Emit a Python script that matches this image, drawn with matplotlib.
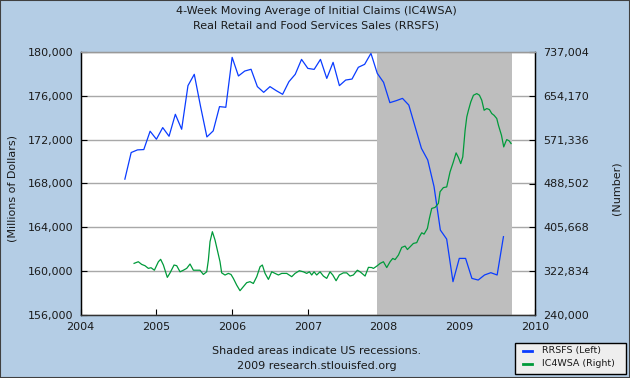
import numpy as np
import matplotlib
matplotlib.use("Agg")
import matplotlib.pyplot as plt
from matplotlib.patches import Rectangle
from matplotlib.lines import Line2D

# ---------------- data ----------------
title_lines = ["4-Week Moving Average of Initial Claims (IC4WSA)",
               "Real Retail and Food Services Sales (RRSFS)"]

# RRSFS monthly, Aug 2004 .. Aug 2009 (millions of dollars)
rrsfs_start_year = 2004
rrsfs_start_month = 8
rrsfs = [168395, 170820, 171060, 171090, 172760,
         172030, 173090, 172300, 174300, 172940, 176910, 177940, 175000, 172240, 172790, 175000, 174940,
         179485, 177790, 178240, 178400, 176820, 176300, 176820, 176450, 176120, 177270, 177940, 179300,
         178480, 178390, 179300, 177570, 179030, 176910, 177420, 177510, 178580, 178850, 179850, 178030,
         177210, 175360, 175540, 175750, 175140, 173170, 171200, 170140, 167710, 163760, 162940, 159060,
         161180, 161180, 159360, 159210, 159670, 159880, 159670, 163160]

# IC4WSA (weekly) : decimal year, thousands
ic_year = [2004.705, 2004.761, 2004.805, 2004.849, 2004.893, 2004.929, 2004.973, 2005.026, 2005.056,
           2005.092, 2005.144, 2005.180, 2005.233, 2005.268, 2005.312, 2005.356, 2005.400, 2005.444,
           2005.488, 2005.532, 2005.576, 2005.620, 2005.664, 2005.686, 2005.708, 2005.739, 2005.774,
           2005.805, 2005.840, 2005.862, 2005.906, 2005.950, 2005.985, 2006.016, 2006.060, 2006.104,
           2006.148, 2006.192, 2006.236, 2006.280, 2006.325, 2006.369, 2006.399, 2006.435, 2006.479,
           2006.523, 2006.567, 2006.611, 2006.655, 2006.721, 2006.787, 2006.831, 2006.888, 2006.941,
           2006.985, 2007.020, 2007.051, 2007.082, 2007.117, 2007.161, 2007.205, 2007.249, 2007.293,
           2007.329, 2007.373, 2007.416, 2007.469, 2007.513, 2007.557, 2007.601, 2007.654, 2007.690,
           2007.756, 2007.800, 2007.844, 2007.866, 2007.910, 2007.954, 2007.998, 2008.042, 2008.086,
           2008.121, 2008.152, 2008.196, 2008.240, 2008.284, 2008.315, 2008.350, 2008.394, 2008.438,
           2008.473, 2008.504, 2008.535, 2008.579, 2008.605, 2008.636, 2008.680, 2008.724, 2008.746,
           2008.790, 2008.834, 2008.878, 2008.922, 2008.958, 2008.989, 2009.019, 2009.046, 2009.077,
           2009.099, 2009.121, 2009.152, 2009.187, 2009.231, 2009.266, 2009.297, 2009.328, 2009.363,
           2009.398, 2009.429, 2009.460, 2009.495, 2009.517, 2009.557, 2009.587, 2009.613, 2009.627,
           2009.658, 2009.684]
ic_k = [337.9, 341.0, 336.0, 333.5, 328.5, 329.7, 325.0, 341.0, 345.5,
        334.8, 311.5, 320.0, 334.8, 333.5, 322.0, 325.0, 328.5, 336.7,
        325.0, 325.0, 325.0, 317.0, 322.0, 344.0, 378.8, 397.6, 381.9,
        363.0, 341.0, 320.0, 315.9, 319.0, 317.0, 309.6, 297.0, 286.4,
        294.0, 301.5, 303.4, 300.0, 312.8, 331.6, 334.8, 319.0, 307.7,
        322.0, 319.0, 316.0, 319.0, 319.0, 312.8, 319.0, 324.0, 322.0,
        319.0, 322.0, 316.0, 322.0, 316.0, 322.0, 314.0, 309.6, 322.0,
        316.0, 305.2, 316.0, 320.0, 320.0, 314.0, 316.0, 325.0, 322.0,
        314.0, 330.4, 330.0, 328.4, 332.7, 337.8, 341.0, 330.0, 341.0,
        347.2, 345.0, 353.5, 368.0, 370.5, 364.0, 369.0, 375.5, 377.0,
        388.0, 395.6, 393.0, 403.8, 422.6, 441.5, 443.4, 451.0, 473.0,
        480.8, 482.0, 510.4, 529.2, 546.2, 537.4, 526.0, 538.6, 588.9,
        614.0, 626.6, 642.4, 654.9, 658.0, 655.0, 645.5, 626.6, 629.8,
        627.9, 620.4, 617.0, 611.0, 598.4, 579.5, 557.5, 567.0, 571.3,
        569.0, 563.8]

recession = (2007.917, 2009.70)
x_years = [2004, 2005, 2006, 2007, 2008, 2009, 2010]
left_ticks = [156000, 160000, 164000, 168000, 172000, 176000, 180000]
right_ticks = [240000, 322834, 405668, 488502, 571336, 654170, 737004]

# ---------------- style ----------------
BG = "#B4CDE5"
BLUE = "#0A3CFF"
GREEN = "#009A3A"
SHADE = "#BEBEBE"
GRID = "#A8A8A8"
TXT = "#1a1a1a"

W, H = 630, 378
fig = plt.figure(figsize=(W / 100, H / 100), dpi=100)
fig.patch.set_facecolor(BG)

L, R, T, B = 80.7, 535.0, 51.7, 315.3
ax = fig.add_axes([L / W, 1 - B / H, (R - L) / W, (B - T) / H])
ax.set_facecolor("white")
ax2 = ax.twinx()

rx = [rrsfs_start_year + (rrsfs_start_month - 1 + i) / 12 for i in range(len(rrsfs))]
ax.axvspan(recession[0], recession[1], color=SHADE, lw=0, zorder=1)
ax.plot(rx, rrsfs, color=BLUE, lw=0.9, zorder=3)
ax2.plot(ic_year, np.array(ic_k) * 1000, color=GREEN, lw=0.9, zorder=3)

ax.set_xlim(x_years[0], x_years[-1])
ax.set_ylim(left_ticks[0], left_ticks[-1])
ax2.set_ylim(right_ticks[0], right_ticks[-1])

ax.set_xticks(x_years)
ax.set_xticklabels([str(y) for y in x_years])
ax.set_yticks(left_ticks)
ax.set_yticklabels([f"{v:,}" for v in left_ticks])
ax2.set_yticks(right_ticks)
ax2.set_yticklabels([f"{v:,}" for v in right_ticks])

ax.grid(axis="y", color=GRID, lw=1.0, zorder=0.5)
ax.set_axisbelow(True)

for a in (ax, ax2):
    a.tick_params(direction="in", length=4, width=0.8, colors="black",
                  labelcolor=TXT, labelsize=8)
    for s in a.spines.values():
        s.set_linewidth(0.9)
    a.spines["top"].set_color("#999999")
    a.spines["left"].set_color("black")
    a.spines["right"].set_color("black")
    a.spines["bottom"].set_color("#333333")
ax.tick_params(axis="y", pad=5)
ax.tick_params(axis="x", pad=5)
ax2.tick_params(axis="y", pad=6)

# texts
fig.text(316 / W, 1 - 11.5 / H, title_lines[0], ha="center", va="center", fontsize=8, color=TXT)
fig.text(316 / W, 1 - 25.5 / H, title_lines[1], ha="center", va="center", fontsize=8, color=TXT)
fig.text(13 / W, 1 - 188 / H, "(Millions of Dollars)", rotation=90, ha="center", va="center",
         fontsize=8, color=TXT)
fig.text(617 / W, 1 - 188 / H, "(Number)", rotation=90, ha="center", va="center",
         fontsize=8, color=TXT)
fig.text(317 / W, 1 - 351 / H, "Shaded areas indicate US recessions.", ha="center", va="center",
         fontsize=8, color=TXT)
fig.text(317 / W, 1 - 366 / H, "2009 research.stlouisfed.org", ha="center", va="center",
         fontsize=8, color=TXT)

# legend box
lx0, ly0, lx1, ly1 = 514.5, 343, 626, 374
fig.patches.append(Rectangle((lx0 / W, 1 - ly1 / H), (lx1 - lx0) / W, (ly1 - ly0) / H,
                             transform=fig.transFigure, facecolor="#EEEEEE",
                             edgecolor="black", lw=1.0))
for yy, col, lab in [(350.5, BLUE, "RRSFS (Left)"), (364, GREEN, "IC4WSA (Right)")]:
    fig.lines.append(Line2D([523 / W, 532 / W], [1 - yy / H, 1 - yy / H], transform=fig.transFigure,
                            color=col, lw=2))
    fig.text(542 / W, 1 - yy / H, lab, ha="left", va="center", fontsize=6.8, color=TXT)

# figure border
fig.patches.append(Rectangle((0, 0), 1, 1, transform=fig.transFigure, fill=False,
                             edgecolor="#404040", lw=1.5))

fig.savefig("out.png", dpi=100, facecolor=BG)
